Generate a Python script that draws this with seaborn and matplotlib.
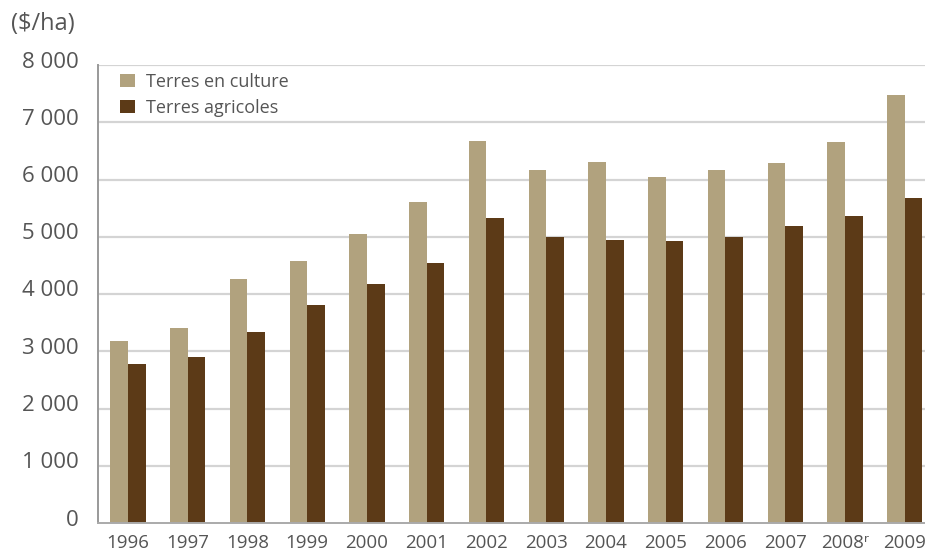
import pandas as pd
import seaborn as sns
import matplotlib.pyplot as plt
from matplotlib.transforms import ScaledTranslation

# Valeur des terres ($/ha)
years = ["1996", "1997", "1998", "1999", "2000", "2001", "2002",
         "2003", "2004", "2005", "2006", "2007", "2008ʳ", "2009"]
terres_culture = [3180, 3410, 4270, 4580, 5050, 5600, 6680,
                  6170, 6310, 6050, 6170, 6280, 6660, 7480]
terres_agricoles = [2770, 2900, 3340, 3810, 4180, 4550, 5330,
                    5000, 4950, 4930, 5000, 5190, 5370, 5680]
series_names = ["Terres en culture", "Terres agricoles"]
y_ticks = [0, 1000, 2000, 3000, 4000, 5000, 6000, 7000, 8000]
y_tick_labels = ["0", "1 000", "2 000", "3 000", "4 000", "5 000", "6 000", "7 000", "8 000"]

df = pd.DataFrame({
    "annee": years * 2,
    "valeur": terres_culture + terres_agricoles,
    "serie": [series_names[0]] * len(years) + [series_names[1]] * len(years),
})

sns.set_style("white")
plt.rcParams["font.family"] = ["Open Sans", "DejaVu Sans"]
text_col = "#555555"

fig = plt.figure(figsize=(9.25, 5.53), dpi=100)
ax = fig.add_axes([98 / 925, 1 - 523 / 553, 1 - 98 / 925, (523 - 65) / 553])

sns.barplot(data=df, x="annee", y="valeur", hue="serie", ax=ax,
            palette=["#b1a27e", "#5c3a17"], width=0.59, gap=0,
            saturation=1, edgecolor="none", linewidth=0)

ax.set_xlim(-0.5, 13.34)
ax.set_ylim(0, 8000)
ax.set_yticks(y_ticks)
ax.set_yticklabels(y_tick_labels, fontsize=16, color=text_col)
ax.set_xticks(range(len(years)))
ax.set_xticklabels(years, fontsize=13.5, color=text_col)
ax.set_xlabel("")
ax.set_ylabel("")

# lignes de grille
for yv in y_ticks[1:]:
    ax.axhline(yv, color="#d4d4d4", lw=1.6, zorder=0)

ax.tick_params(axis="y", length=6, width=1.2, color="#999999", pad=8)
ax.tick_params(axis="x", which="major", length=0, pad=8)
ax.set_xticks([i - 0.5 for i in range(len(years))], minor=True)
ax.tick_params(axis="x", which="minor", length=10, width=1.2, color="#aaaaaa")

# les étiquettes de l'axe y sont un peu au-dessus des repères
shift = ScaledTranslation(0, 0.055, fig.dpi_scale_trans)
for lab in ax.get_yticklabels():
    lab.set_transform(lab.get_transform() + shift)

for s in ["top", "right"]:
    ax.spines[s].set_visible(False)
ax.spines["left"].set_color("#999999")
ax.spines["left"].set_linewidth(1.4)
ax.spines["bottom"].set_color("#aaaaaa")
ax.spines["bottom"].set_linewidth(1.4)

sns.move_legend(ax, loc="upper left", bbox_to_anchor=(120 / 925, 1 - 73 / 553),
                bbox_transform=fig.transFigure, frameon=False, title=None,
                fontsize=13, handlelength=0.82, handleheight=0.72,
                handletextpad=0.6, labelspacing=0.45, borderpad=0,
                borderaxespad=0)
for t in ax.get_legend().get_texts():
    t.set_color(text_col)

fig.text(11 / 925, 1 - 24 / 553, "($/ha)", fontsize=17, color=text_col,
         ha="left", va="center")

fig.savefig("out.png", dpi=100)
